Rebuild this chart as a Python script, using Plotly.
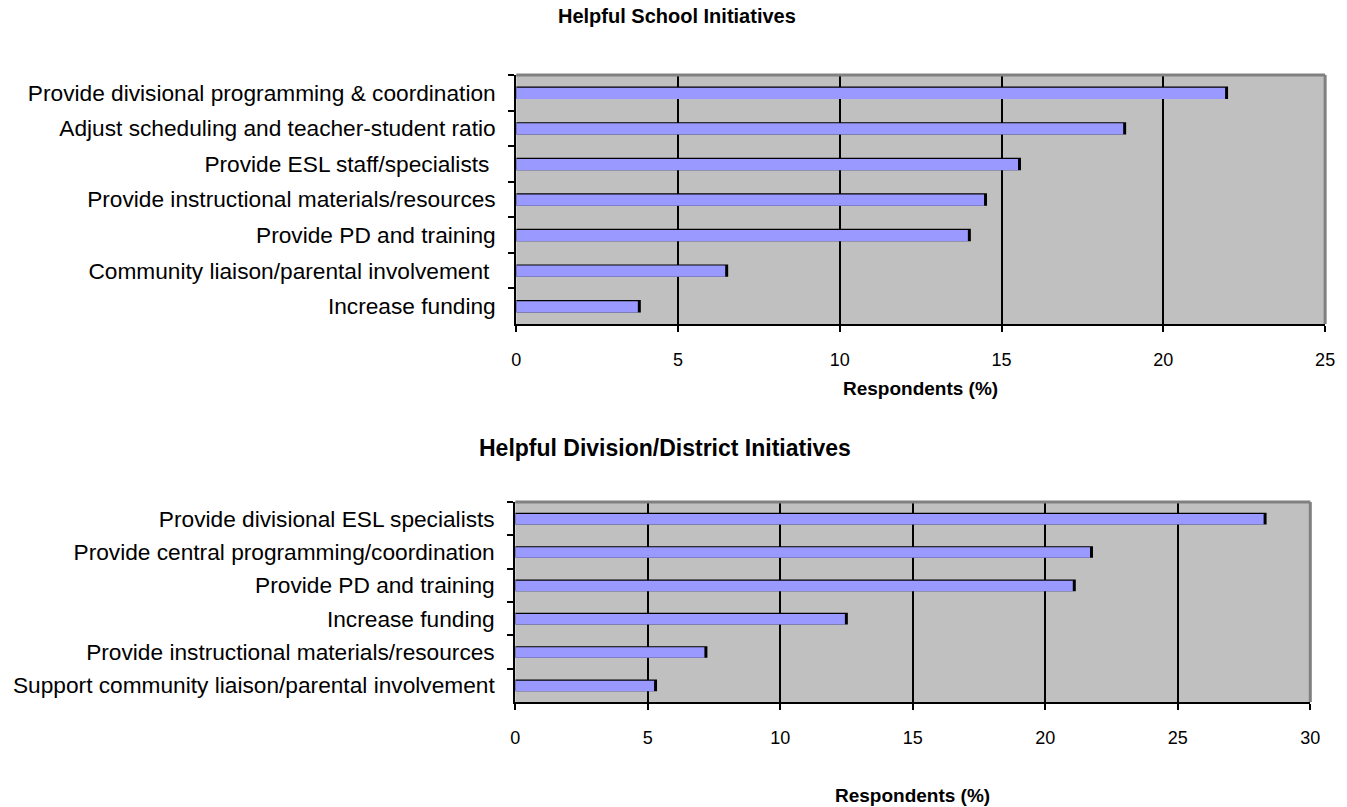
import plotly.graph_objects as go

# Survey results: share of respondents naming each initiative as helpful
school_items = [
    "Provide divisional programming & coordination",
    "Adjust scheduling and teacher-student ratio",
    "Provide ESL staff/specialists ",
    "Provide instructional materials/resources",
    "Provide PD and training",
    "Community liaison/parental involvement ",
    "Increase funding",
]
school_pct = [22.0, 18.85, 15.6, 14.55, 14.05, 6.55, 3.85]

district_items = [
    "Provide divisional ESL specialists",
    "Provide central programming/coordination",
    "Provide PD and training",
    "Increase funding",
    "Provide instructional materials/resources",
    "Support community liaison/parental involvement",
]
district_pct = [28.35, 21.8, 21.15, 12.55, 7.25, 5.35]

school_ticks = [0, 5, 10, 15, 20, 25]
district_ticks = [0, 5, 10, 15, 20, 25, 30]

W, H = 1347, 807
FONT = "Liberation Sans, Arial, sans-serif"
BAR_FILL = "#9999FF"
PLOT_BG = "#C0C0C0"


def px_x(x):
    return x / W


def px_y(y):
    return 1 - y / H


fig = go.Figure()

panels = [
    # items, values, ticks, axis suffix, plot box (left, top, right, bottom) in px
    (school_items, school_pct, school_ticks, "", (517, 75, 1335, 324)),
    (district_items, district_pct, district_ticks, "2", (516, 502, 1320, 702)),
]

bar_w = 0.35
for items, vals, ticks, sfx, (l, t, r, b) in panels:
    xmax = ticks[-1]
    plot_w = r - l
    band_h = (b - t) / len(items)
    depth = xmax * 3.0 / plot_w          # dark end face, ~3px
    top_edge = 1.2 / band_h              # dark top face, ~1px
    xa = "x" + sfx
    ya = "y" + sfx
    # dark faces drawn first, light front face over them
    fig.add_trace(go.Bar(
        x=vals, y=items, orientation="h", xaxis=xa, yaxis=ya,
        marker=dict(color="#000000", line=dict(width=0)),
        width=bar_w, offset=-bar_w / 2, hoverinfo="skip", showlegend=False,
    ))
    fig.add_trace(go.Bar(
        x=[v - depth for v in vals], y=items, orientation="h", xaxis=xa, yaxis=ya,
        marker=dict(color=BAR_FILL, line=dict(width=0)),
        width=bar_w - top_edge, offset=-bar_w / 2 + top_edge,
        showlegend=False,
    ))

layout = dict(
    width=W, height=H, autosize=False,
    margin=dict(l=0, r=0, t=0, b=0),
    paper_bgcolor="white",
    plot_bgcolor=PLOT_BG,
    barmode="overlay",
    font=dict(family=FONT, color="black"),
    showlegend=False,
)

for items, vals, ticks, sfx, (l, t, r, b) in panels:
    xa_name = "xaxis" + sfx
    ya_name = "yaxis" + sfx
    layout[xa_name] = dict(
        domain=[px_x(l), px_x(r)],
        anchor="y" + sfx,
        range=[0, ticks[-1]],
        tickvals=ticks,
        ticktext=[str(v) for v in ticks],
        showgrid=True, gridcolor="black", gridwidth=2,
        zeroline=False,
        showline=True, linecolor="black", linewidth=2,
        ticks="outside", ticklen=6, tickwidth=2, tickcolor="black",
        ticklabelstandoff=12,
        tickfont=dict(size=18, family=FONT, color="black"),
        fixedrange=True,
    )
    layout[ya_name] = dict(
        domain=[px_y(b), px_y(t)],
        anchor="x" + sfx,
        type="category",
        categoryorder="array", categoryarray=items,
        range=[len(items) - 0.5, -0.5],
        showgrid=False, zeroline=False,
        showline=True, linecolor="black", linewidth=2,
        ticks="outside", ticklen=6, tickwidth=2, tickcolor="black",
        tickson="boundaries",
        ticklabelstandoff=14,
        tickfont=dict(size=22.7, family=FONT, color="black"),
        fixedrange=True,
    )

fig.update_layout(**layout)

# gray frame on the top and right of each plot area
for sfx in ["", "2"]:
    xr = "x" + sfx + " domain" if sfx else "x domain"
    yr = "y" + sfx + " domain" if sfx else "y domain"
    fig.add_shape(type="line", xref=xr, yref=yr, x0=0, x1=1, y0=1, y1=1,
                  line=dict(color="#808080", width=3), layer="above")
    fig.add_shape(type="line", xref=xr, yref=yr, x0=1, x1=1, y0=0, y1=1,
                  line=dict(color="#808080", width=3), layer="above")

titles = [
    ("Helpful School Initiatives", 680, 16, 20),
    ("Helpful Division/District Initiatives", 667, 448, 23),
    ("Respondents (%)", 926, 389, 19),
    ("Respondents (%)", 918, 795, 19),
]
for text, cx, cy, size in titles:
    fig.add_annotation(
        text="<b>%s</b>" % text, xref="paper", yref="paper",
        x=px_x(cx), y=px_y(cy), xanchor="center", yanchor="middle",
        showarrow=False, font=dict(size=size, family=FONT, color="black"),
    )

fig.write_html("out.html")
